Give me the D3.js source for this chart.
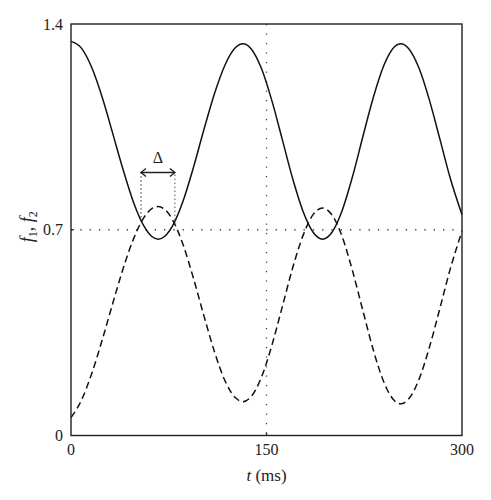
<!DOCTYPE html>
<html>
<head>
  <meta charset="utf-8">
  <script src="https://d3js.org/d3.v7.min.js"></script>
  <style>
    body { margin: 0; background: #fff; }
    text { font-family: "Liberation Serif", "DejaVu Serif", serif; fill: #222; }
  </style>
</head>
<body>
<svg id="canvas"></svg>
<script>
// values
var tVals = [0,8,16,24,32,40,48,56,62,67,72,78,86,94,102,110,118,126,132,138,146,154,162,170,178,186,193,
             200,208,216,224,232,240,248,253,259,267,275,283,291,300];
var f1 = [1.341,1.318,1.251,1.150,1.028,0.904,0.793,0.712,0.677,0.668,0.678,0.714,0.798,0.913,1.041,1.162,1.259,1.319,1.333,
          1.317,1.250,1.141,1.009,0.875,0.763,0.690,0.668,0.690,0.765,0.881,1.018,1.151,1.259,1.322,1.333,
          1.317,1.250,1.141,1.009,0.875,0.751];
var f2 = [0.061,0.120,0.212,0.326,0.449,0.568,0.669,0.742,0.772,0.779,0.769,0.733,0.649,0.534,0.407,0.286,0.188,0.129,0.115,
          0.131,0.197,0.305,0.436,0.569,0.680,0.753,0.774,0.752,0.677,0.560,0.424,0.290,0.182,0.119,0.108,
          0.124,0.191,0.300,0.432,0.567,0.695];
var xTicks = [0, 150, 300];
var yTicks = [0, 0.7, 1.4];
// delta annotation: crossings of f1 and f2
var crossT = [53.7, 79.7];
var crossV = [0.728, 0.720];
var arrowV = 0.895;

var width = 491, height = 500;
var margin = {top: 24, right: 29, bottom: 64.5, left: 71};
var w = width - margin.left - margin.right,
    h = height - margin.top - margin.bottom;

var svg = d3.select("#canvas").attr("width", width).attr("height", height);
var g = svg.append("g").attr("transform", "translate(" + margin.left + "," + margin.top + ")");

var x = d3.scaleLinear().domain([0, 300]).range([0, w]);
var y = d3.scaleLinear().domain([0, 1.4]).range([h, 0]);

// dotted reference lines
g.append("line")
  .attr("x1", 0).attr("x2", w)
  .attr("y1", y(0.7)).attr("y2", y(0.7))
  .attr("stroke", "#444").attr("stroke-width", 1.3)
  .attr("stroke-dasharray", "1.3,8");
g.append("line")
  .attr("x1", x(150)).attr("x2", x(150))
  .attr("y1", 0).attr("y2", h)
  .attr("stroke", "#444").attr("stroke-width", 1.3)
  .attr("stroke-dasharray", "1.3,8.2");

var line = d3.line().curve(d3.curveMonotoneX);
var pts1 = tVals.map(function(t, i) { return [x(t), y(f1[i])]; });
var pts2 = tVals.map(function(t, i) { return [x(t), y(f2[i])]; });

g.append("path").attr("d", line(pts1))
  .attr("fill", "none").attr("stroke", "#111").attr("stroke-width", 1.5);
g.append("path").attr("d", line(pts2))
  .attr("fill", "none").attr("stroke", "#111").attr("stroke-width", 1.5)
  .attr("stroke-dasharray", "7,4");

// delta marker
crossT.forEach(function(t, i) {
  g.append("line")
    .attr("x1", x(t)).attr("x2", x(t))
    .attr("y1", y(crossV[i])).attr("y2", y(arrowV))
    .attr("stroke", "#333").attr("stroke-width", 1.2)
    .attr("stroke-dasharray", "1.2,2.8");
});
var ax1 = x(crossT[0]), ax2 = x(crossT[1]), ay = y(arrowV);
g.append("line")
  .attr("x1", ax1).attr("x2", ax2).attr("y1", ay).attr("y2", ay)
  .attr("stroke", "#222").attr("stroke-width", 1.4);
g.append("path")
  .attr("d", "M" + (ax1 + 5) + "," + (ay - 4) + "L" + ax1 + "," + ay + "L" + (ax1 + 5) + "," + (ay + 4) +
             "M" + (ax2 - 5) + "," + (ay - 4) + "L" + ax2 + "," + ay + "L" + (ax2 - 5) + "," + (ay + 4))
  .attr("fill", "none").attr("stroke", "#222").attr("stroke-width", 1.4);
g.append("text").text("Δ")
  .attr("x", (ax1 + ax2) / 2).attr("y", ay - 9)
  .attr("text-anchor", "middle").style("font-size", "16px");

// frame
g.append("rect")
  .attr("width", w).attr("height", h)
  .attr("fill", "none").attr("stroke", "#222").attr("stroke-width", 1.4);

// ticks, inward
g.append("line").attr("x1", 0).attr("x2", 3).attr("y1", y(0.7)).attr("y2", y(0.7))
  .attr("stroke", "#222").attr("stroke-width", 1.2);
g.append("line").attr("x1", x(150)).attr("x2", x(150)).attr("y1", h).attr("y2", h - 3)
  .attr("stroke", "#222").attr("stroke-width", 1.2);

g.selectAll(".ylab").data(yTicks).enter().append("text")
  .attr("class", "ylab")
  .attr("x", -8).attr("y", function(d) { return y(d); })
  .attr("dy", "0.35em").attr("text-anchor", "end")
  .style("font-size", "16px")
  .text(function(d) { return d === 0 ? "0" : d.toFixed(1); });
g.selectAll(".xlab").data(xTicks).enter().append("text")
  .attr("class", "xlab")
  .attr("x", function(d) { return x(d); }).attr("y", h + 19)
  .attr("text-anchor", "middle")
  .style("font-size", "16px")
  .text(function(d) { return d; });

// axis titles
var xt = g.append("text").attr("x", x(150)).attr("y", h + 45)
  .attr("text-anchor", "middle").style("font-size", "17px");
xt.append("tspan").style("font-style", "italic").text("t");
xt.append("tspan").text(" (ms)");

var yt = svg.append("text")
  .attr("transform", "translate(" + 33 + "," + (margin.top + y(0.7) - 3) + ") rotate(-90)")
  .attr("text-anchor", "middle").style("font-size", "18px");
yt.append("tspan").style("font-style", "italic").text("f");
yt.append("tspan").attr("dy", 4).style("font-size", "12px").text("1");
yt.append("tspan").attr("dy", -4).text(", ");
yt.append("tspan").style("font-style", "italic").text("f");
yt.append("tspan").attr("dy", 4).style("font-size", "12px").text("2");
</script>
</body>
</html>
